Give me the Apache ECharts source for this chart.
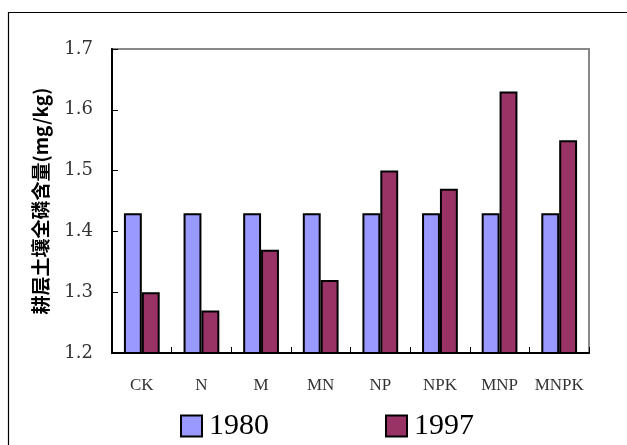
<!DOCTYPE html>
<html><head><meta charset="utf-8">
<script src="https://cdn.jsdelivr.net/npm/echarts@6/dist/echarts.min.js"></script>
<style>html,body{margin:0;padding:0;background:#fff;}#c{width:627px;height:445px;}</style>
</head><body><div id="c"></div>
<script>
const categories = ['CK','N','M','MN','NP','NPK','MNP','MNPK'];
const series1980 = [1.43,1.43,1.43,1.43,1.43,1.43,1.43,1.43];
const series1997 = [1.30,1.27,1.37,1.32,1.50,1.47,1.63,1.55];
const yTicks = [1.2,1.3,1.4,1.5,1.6,1.7];

const chart = echarts.init(document.getElementById('c'));
chart.setOption({
  animation:false,
  backgroundColor:'#fff',
  graphic:[{type:'rect',shape:{x:8.5,y:12.5,width:700,height:500},style:{fill:'none',stroke:'#000',lineWidth:1.2},z:-1}],
  grid:{left:112,top:49,right:38,bottom:92,show:true,borderColor:'#888',borderWidth:2,backgroundColor:'transparent'},
  legend:{left:175,top:406,itemWidth:21,itemHeight:21,itemGap:116,icon:'rect',
    itemStyle:{borderColor:'#000',borderWidth:2},
    textStyle:{fontFamily:'Liberation Serif',fontSize:30,color:'#000',padding:[0,0,0,2]},
    data:['1980','1997']},
  xAxis:{type:'category',data:categories,
    axisLine:{lineStyle:{color:'#000',width:2}},
    axisTick:{show:true,inside:true,length:6,lineStyle:{color:'#000',width:1}},
    axisLabel:{interval:0,fontFamily:'Liberation Serif',fontSize:17,color:'#333',margin:24}},
  yAxis:{type:'value',min:1.2,max:1.7,interval:0.1,
    name:'耕层土壤全磷含量(mg/kg)',nameLocation:'middle',nameGap:62,nameRotate:90,
    nameTextStyle:{fontFamily:'Noto Sans CJK SC',fontWeight:'bold',fontSize:19,color:'#000'},
    axisLine:{show:true,lineStyle:{color:'#000',width:2}},
    axisTick:{show:true,inside:true,length:6,lineStyle:{color:'#000',width:1}},
    splitLine:{show:false},
    axisLabel:{fontFamily:'DejaVu Serif',fontSize:18,color:'#333',margin:19,
      formatter:v=>{const t=yTicks.find(x=>Math.abs(x-v)<1e-6);return t!==undefined?t.toFixed(1):'';}}},
  series:[
    {name:'1980',type:'bar',data:series1980,barGap:'0%',barCategoryGap:'40%',
      itemStyle:{color:'#9999FF',borderColor:'#000',borderWidth:2}},
    {name:'1997',type:'bar',data:series1997,
      itemStyle:{color:'#993366',borderColor:'#000',borderWidth:2}}
  ]
});
</script></body></html>
